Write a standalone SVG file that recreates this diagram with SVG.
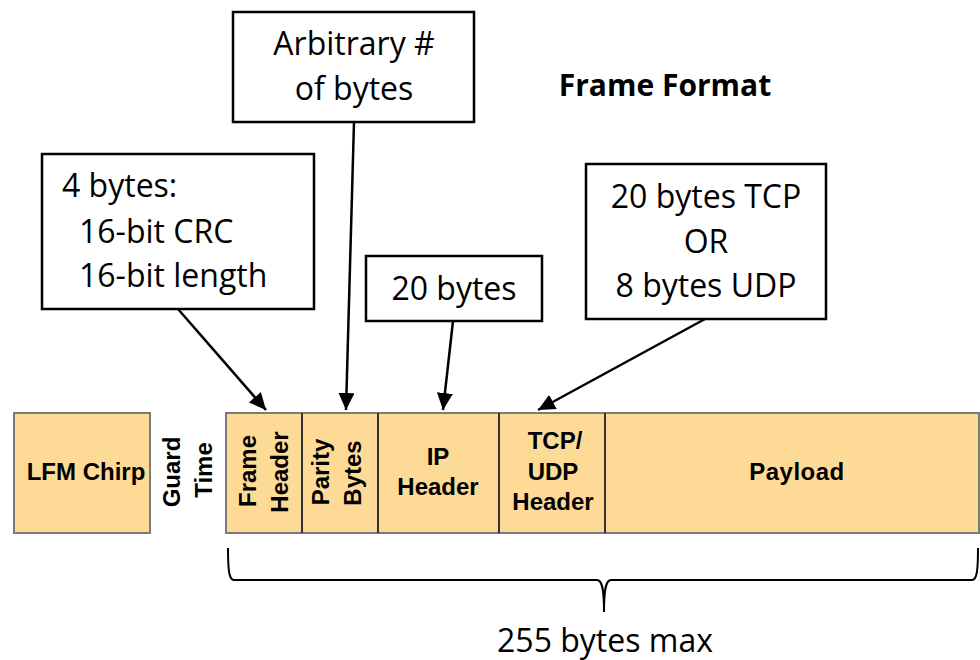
<svg xmlns="http://www.w3.org/2000/svg" width="980" height="660" viewBox="0 0 980 660">
  <style>
    .note { fill: #ffffff; stroke: #000000; stroke-width: 2.5; }
    .note-text { font-family: "Open Sans", "Liberation Sans", sans-serif; font-size: 32px; fill: #000000; }
    .title { font-family: "Open Sans", "Liberation Sans", sans-serif; font-size: 30px; font-weight: bold; fill: #000000; }
    .cell { fill: #FEDA97; stroke: #7a7a7a; stroke-width: 2; }
    .divider { stroke: #333333; stroke-width: 2; }
    .field { font-family: "Liberation Sans", Arial, sans-serif; font-size: 24px; font-weight: bold; fill: #000000; text-anchor: middle; }
    .conn { fill: none; stroke: #000000; stroke-width: 2.5; }
    .brace { fill: none; stroke: #000000; stroke-width: 2; }
  </style>
  <defs>
    <marker id="arrow" markerUnits="userSpaceOnUse" markerWidth="18" markerHeight="16" refX="17" refY="8" orient="auto">
      <path d="M0,0 L17,8 L0,16 Z" fill="#000000"/>
    </marker>
  </defs>

  <rect width="980" height="660" fill="#ffffff"/>

  <!-- Title -->
  <text class="title" x="665" y="96" text-anchor="middle">Frame Format</text>

  <!-- Annotation boxes -->
  <g id="note-arbitrary">
    <rect class="note" x="233" y="12" width="241" height="110"/>
    <text class="note-text" x="354" y="55" text-anchor="middle">Arbitrary #</text>
    <text class="note-text" x="354" y="100" text-anchor="middle">of bytes</text>
  </g>
  <g id="note-frame-header">
    <rect class="note" x="42" y="154" width="272" height="155"/>
    <text class="note-text" x="62" y="197">4 bytes:</text>
    <text class="note-text" x="79" y="243">16-bit CRC</text>
    <text class="note-text" x="79" y="287">16-bit length</text>
  </g>
  <g id="note-ip">
    <rect class="note" x="366" y="256" width="176" height="65"/>
    <text class="note-text" x="454" y="300" text-anchor="middle">20 bytes</text>
  </g>
  <g id="note-transport">
    <rect class="note" x="586" y="164" width="240" height="155"/>
    <text class="note-text" x="706" y="208" text-anchor="middle">20 bytes TCP</text>
    <text class="note-text" x="706" y="253" text-anchor="middle">OR</text>
    <text class="note-text" x="706" y="297" text-anchor="middle">8 bytes UDP</text>
  </g>

  <!-- Frame layout -->
  <g id="lfm-chirp">
    <rect class="cell" x="14" y="413" width="136" height="120"/>
    <text class="field" x="86" y="480">LFM Chirp</text>
  </g>
  <g id="guard-time">
    <text class="field" transform="translate(180,472) rotate(-90)">Guard</text>
    <text class="field" transform="translate(212,470) rotate(-90)">Time</text>
  </g>
  <g id="frame">
    <rect class="cell" x="226" y="413" width="753" height="120"/>
    <line class="divider" x1="302" y1="413" x2="302" y2="533"/>
    <line class="divider" x1="378" y1="413" x2="378" y2="533"/>
    <line class="divider" x1="499" y1="413" x2="499" y2="533"/>
    <line class="divider" x1="605" y1="413" x2="605" y2="533"/>
  </g>
  <g id="frame-header">
    <text class="field" transform="translate(256,471) rotate(-90)">Frame</text>
    <text class="field" transform="translate(288,472) rotate(-90)">Header</text>
  </g>
  <g id="parity-bytes">
    <text class="field" transform="translate(329,472) rotate(-90)">Parity</text>
    <text class="field" transform="translate(361,473) rotate(-90)">Bytes</text>
  </g>
  <g id="ip-header">
    <text class="field" x="438" y="465">IP</text>
    <text class="field" x="438" y="495">Header</text>
  </g>
  <g id="transport-header">
    <text class="field" x="555" y="449">TCP/</text>
    <text class="field" x="553" y="480">UDP</text>
    <text class="field" x="553" y="510">Header</text>
  </g>
  <g id="payload">
    <text class="field" x="797" y="480" letter-spacing="0.5">Payload</text>
  </g>

  <!-- Connectors -->
  <g id="connectors">
    <line class="conn" x1="178" y1="309" x2="266" y2="410" marker-end="url(#arrow)"/>
    <line class="conn" x1="354" y1="122" x2="346" y2="410" marker-end="url(#arrow)"/>
    <line class="conn" x1="453" y1="321" x2="443" y2="410" marker-end="url(#arrow)"/>
    <line class="conn" x1="705" y1="319" x2="538" y2="410" marker-end="url(#arrow)"/>
  </g>

  <!-- Length brace -->
  <g id="length-brace">
    <path class="brace" d="M228,548 C228,570 229,580 234,580 L597,580 C602,580 604,588 604,612 C604,588 606,580 611,580 L972,580 C977,580 978,570 978,548"/>
    <text class="note-text" x="605" y="652" text-anchor="middle">255 bytes max</text>
  </g>
</svg>
